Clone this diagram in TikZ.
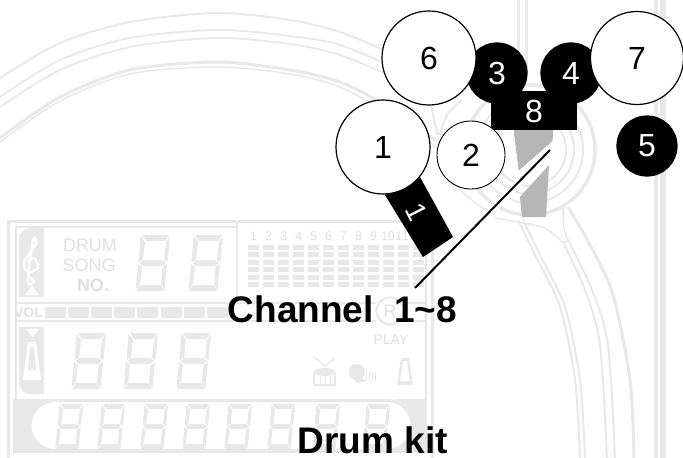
\documentclass[tikz,border=0pt]{standalone}
\usepackage{fontspec}
\setmainfont{Liberation Sans}
\newcommand{\lcdglyph}[3]{\begin{scope}[shift={(#1,#2)},scale=#3]
\fill[lcdc] (7,0)--(34,0)--(30,6)--(11,6)--cycle;
\fill[lcdc] (5.5,1)--(10,7)--(8,25)--(3.5,27)--cycle;
\fill[lcdc] (35,1)--(31,7)--(29,25)--(32.5,27)--cycle;
\fill[lcdc] (4.5,28)--(9,25)--(27,25)--(31,28)--(27,31)--(8,31)--cycle;
\fill[lcdc] (3,29)--(7,32)--(5,49)--(0.5,55)--cycle;
\fill[lcdc] (32,29)--(27.5,32)--(26,49)--(29.5,55)--cycle;
\fill[lcdc] (1,56)--(5,50)--(26,50)--(29,56)--cycle;
\end{scope}}
\newcommand{\fsz}[1]{\fontsize{#1}{#1}\selectfont}
\definecolor{lcdc}{HTML}{E8E8E8}
\definecolor{lcdt}{HTML}{E0E0E0}
\definecolor{markc}{HTML}{B5B6B5}
\tikzset{
  bgline/.style={draw=lcdc,line width=#1},
  bgline/.default=1.5,
  opendrum/.style={circle,draw=black,fill=white,line width=1.2pt,inner sep=0pt,text=black,font=\fsz{32}},
  soliddrum/.style={circle,draw=black,fill=black,line width=1.2pt,inner sep=0pt,text=white,font=\fsz{32}},
  lcdtext/.style={text=lcdt,inner sep=0pt},
  caption/.style={text=black,inner sep=0pt,anchor=base west,font=\fsz{37}\bfseries},
}
\begin{document}
\begin{tikzpicture}[x=1pt,y=-1pt]
\useasboundingbox (0,0) rectangle (683,458);
% --- wheel background ---
\draw[bgline=2] plot[smooth] coordinates {(0,78)(60,43)(130,22)(217,13)(290,20)(340,32)(395,55)};
\draw[bgline=1.8] plot[smooth] coordinates {(0,97)(60,60)(130,38)(217,30)(290,36)(340,45)(400,70)};
\draw[bgline=1.8] plot[smooth] coordinates {(0,107)(60,70)(130,47)(217,38)(290,44)(340,55)(400,80)};
\draw[bgline=3] plot[smooth] coordinates {(0,138)(60,97)(130,70)(217,62)(290,70)(340,82)(385,105)(435,140)};
\draw[bgline=1.5] plot[smooth] coordinates {(0,142)(60,101)(130,74)(217,67)(290,74)(340,87)(385,112)(440,150)};
\draw[bgline=2] plot[smooth] coordinates {(430,95)(433,115)(438,135)};
\draw[bgline=2] plot[smooth] coordinates {(462,100)(447,115)(440,135)};
\draw[bgline=3.5] (530,150) circle[radius=65];
\draw[bgline=2] (530,150) circle[radius=53];
\draw[bgline=2] (530,150) circle[radius=44];
\draw[bgline=2] (530,150) circle[radius=36];
% verticals
\fill[lcdc] (517,0) rectangle (520,72);
\fill[lcdc] (525,0) rectangle (528,72);
\fill[lcdc] (654,0) rectangle (658,458);
\fill[lcdc] (660,0) rectangle (666,458);
% spokes
\draw[bgline=2] plot[smooth] coordinates {(518,220)(535,255)(560,307)(575,380)(580,458)};
\draw[bgline=2] plot[smooth] coordinates {(523,220)(540,255)(565,307)(580,380)(585,458)};
\draw[bgline=2] plot[smooth] coordinates {(563,242)(585,290)(600,345)(607,458)};
\draw[bgline=2] plot[smooth] coordinates {(568,240)(592,290)(608,345)(615,458)};
\draw[bgline=3] plot[smooth] coordinates {(568,207)(590,245)(613,295)(630,380)(634,458)};
\draw[bgline=1.5] plot[smooth] coordinates {(495,218)(517,222)(545,228)(563,243)};
\draw[bgline=1.5] plot[smooth] coordinates {(563,207)(564,228)(568,241)};
\draw[bgline=1.5] (563,243)--(570,240);
\draw[bgline=1.5] plot[smooth] coordinates {(460,190)(478,205)(495,213)};
% --- LCD panel ---
\fill[white] (10,224) rectangle (425,455);
\fill[lcdc] (7,220) rectangle (430,223);
\fill[lcdc] (7,220) rectangle (10,458);
\fill[lcdc] (15,226) rectangle (236,228);
\fill[lcdc] (15,226) rectangle (17,452);
\fill[lcdc] (236,223) rectangle (238,304);
\fill[lcdc] (15,302) rectangle (425,304);
\fill[lcdc] (15,320) rectangle (425,322);
\fill[lcdc] (425,223) rectangle (427,400);
\fill[lcdc] (431,223) rectangle (434,458);
% pills
\fill[lcdc,rounded corners=11pt] (44,228) -- (19,228) [sharp corners] -- (19,297) -- (44,297) -- cycle;
\fill[white] (32,286) -- (39,295) -- (25,295) -- cycle;
\draw[white,line width=2.4pt,line cap=round] plot[smooth] coordinates {(31,278)(34,282)(30,284)(28,280)(33,240)(36,244)(24,262)(28,272)(38,268)(34,258)(28,262)};
\fill[lcdc,rounded corners=11pt] (44,394) -- (19,394) [sharp corners] -- (19,327) -- (44,327) -- cycle;
\fill[white] (26,329) -- (39,329) -- (32.5,337) -- cycle;
\fill[white] (28,342) -- (36,342) -- (41,380) -- (23,380) -- cycle;
\fill[lcdc] (30,347) -- (34,347) -- (36,370) -- (28,370) -- cycle;
% labels
\node[lcdtext,font=\fsz{18}] (tDrum) at (90,245.5) {DRUM};
\node[lcdtext,font=\fsz{18}] (tSong) at (89,265) {SONG};
\node[lcdtext,font=\fsz{18}\bfseries] (tNo) at (93,285) {NO.};
\node[lcdtext,font=\fsz{14}\bfseries] (tVol) at (28.5,313) {VOL};
\foreach \x in {45,68,91,114,137,161,184,207} \fill[lcdc] (\x,307) rectangle +(21,11);
% big digits
\lcdglyph{135}{235}{1}
\lcdglyph{188}{235}{1}
\lcdglyph{71}{333}{1}
\lcdglyph{123}{333}{1}
\lcdglyph{176}{333}{1}
% equaliser
\foreach \x in {0,...,11} \foreach \y in {245,252,260,267,275,282} \fill[lcdc] (248+15*\x,\y) rectangle +(11,5);
\foreach \n [count=\i from 0] in {1,...,9} \node[lcdtext,font=\fsz{12.5}] (eq\n) at (253.5+15*\i,236) {\n};
\node[lcdtext,font=\fsz{12.5}] (eq10) at (388,236) {1\hspace{-.5pt}0};
\node[lcdtext,font=\fsz{12.5}] (eq11) at (402,236) {1\hspace{-.5pt}1};
% play
\fill[white] (376,296) rectangle (404,324);
\draw[bgline=2.2] (390,311) circle[radius=13.5];
\node[lcdtext,font=\fsz{18}] (tR) at (390,311) {R};
\node[lcdtext,font=\fsz{14}] (tPlay) at (391,339.5) {PLAY};
% icons
\draw[bgline=1.5] (314,357)--(325,366)--(335,358);
\draw[bgline=1.5] (314,373) rectangle (335,385);
\fill[lcdc] (324.5,372) ellipse[x radius=10.5,y radius=4];
\foreach \x in {320,325,330} \draw[bgline=1] (\x,376)--(\x,385);
\fill[lcdc] (357,372) circle[radius=8];
\fill[lcdc] (353,372) -- (366,381) -- (358,383) -- (352,378) -- cycle;
\foreach \x in {366,369,372,375} \draw[bgline=1] (\x,372)--(\x,382);
\fill[lcdc] (401,358) -- (409,358) -- (413,385) -- (397,385) -- cycle;
\fill[white] (403,361) -- (407,361) -- (410,381) -- (400,381) -- cycle;
% stadium row
\fill[lcdc] (13,399) rectangle (50,451);
\fill[lcdc] (395,399) rectangle (427,451);
\draw[bgline=3,fill=white,rounded corners=25pt] (30,400.5) rectangle (412,450.5);
\fill[lcdc] (13,450) rectangle (427,453);
\foreach \x in {55,97,140,182,224,267,312,362} \lcdglyph{\x}{404}{0.8}
% --- marks ---
\fill[markc] (514,130) -- (553,130) -- (552,141) -- (519,170) -- cycle;
\fill[markc] (549,165) -- (520,197) -- (522,217) -- (546,217) -- cycle;
% --- black parts ---
\fill[black] (385,195) -- (420,177) -- (453,237) -- (423,257) -- cycle;
\node[text=white,font=\fsz{28},rotate=-63,inner sep=0pt] (n1b) at (417,212) {1};
\node[soliddrum,minimum size=60pt] (c3) at (497,73) {3};
\node[soliddrum,minimum size=60pt] (c4) at (571,73) {4};
\fill[black] (491,91) rectangle (577,130);
\node[text=white,font=\fsz{32},inner sep=0pt] (c8) at (534,111) {8};
\node[soliddrum,minimum size=60pt] (c5) at (647,146) {5};
\node[opendrum,minimum size=94pt] (c6) at (429,58) {6};
\node[opendrum,minimum size=93pt] (c7) at (637,58) {7};
\node[opendrum,minimum size=94pt] (c1) at (383,147) {1};
\node[opendrum,minimum size=68pt,line width=.9pt] (c2) at (471,155) {2};
% --- connector ---
\coordinate (leadTop) at (550,150);
\coordinate (leadMid) at (483,220);
\coordinate (leadEnd) at (415,288);
\draw[white,line width=8pt,line cap=round] (leadTop) -- (leadMid);
\draw[black,line width=2pt] (leadTop) -- (leadEnd);
% --- captions ---
\node[caption] (chan) at (227.5,322) {Channel\ \ 1\textasciitilde 8};
\node[caption] (kit) at (297.5,453) {Drum kit};
\end{tikzpicture}
\end{document}
